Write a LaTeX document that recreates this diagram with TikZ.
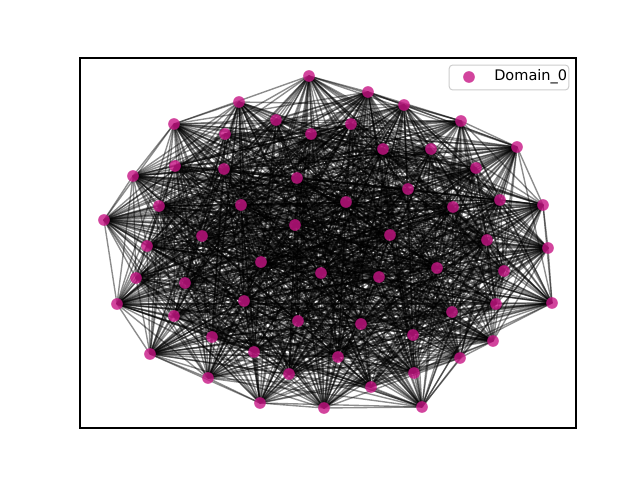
\documentclass[tikz,border=0pt]{standalone}
\usepackage{fontspec}
\setmainfont{DejaVu Sans}
\pgfdeclarelayer{background}
\pgfsetlayers{background,main}
\definecolor{nodecol}{HTML}{C71585}
\tikzset{
  vert/.style={circle,fill=nodecol,fill opacity=0.8,draw=none,inner sep=0pt,minimum size=8.4pt},
  edge/.style={draw=black,line width=1pt,draw opacity=0.45},
  legbox/.style={draw=black!20,fill=white,fill opacity=0.8,text opacity=1,rounded corners=2.5pt,line width=0.7pt},
}
\begin{document}
\begin{tikzpicture}[x=0.01in,y=-0.01in]
\useasboundingbox (0,0) rectangle (640,480);
\foreach \x/\y [count=\i] in {
309/76,368/92,404/105,461/121,517/147,239/102,174/124,225/134,276/120,311/134,
351/124,383/149,431/149,476/168,133/176,175/166,224/169,297/178,408/189,104/220,
159/206,241/205,346/202,453/207,500/200,543/205,147/246,202/236,295/225,390/235,
487/240,548/248,136/278,261/262,321/273,379/277,437/268,504/271,117/304,185/283,
244/301,496/304,552/303,174/316,298/321,361/324,452/312,212/337,413/335,493/341,
150/354,254/352,338/357,460/358,208/378,289/374,371/387,414/373,260/403,324/408,
422/407}
  \node[vert] (n\i) at (\x,\y) {};
\pgfmathsetseed{12345}
\begin{pgfonlayer}{background}
\foreach \i in {1,...,60}{
  \pgfmathtruncatemacro\s{\i+1}
  \foreach \j in {\s,...,61}{
    \pgfmathsetmacro\r{rnd}
    \ifdim\r pt<0.68pt \draw[edge] (n\i.center) -- (n\j.center);\fi
  }
}
\end{pgfonlayer}
\draw[line width=0.8pt] (80,58) rectangle (576,428);
\node[legbox,minimum width=120*0.72pt,minimum height=25*0.72pt,inner sep=0pt] (leg) at (509,77.5) {};
\node[vert] (legmark) at (469,77) {};
\node[anchor=west,inner sep=0pt,font=\fontsize{10.5pt}{12pt}\selectfont] (legtext) at (494,77) {Domain\_0};
\end{tikzpicture}
\end{document}
